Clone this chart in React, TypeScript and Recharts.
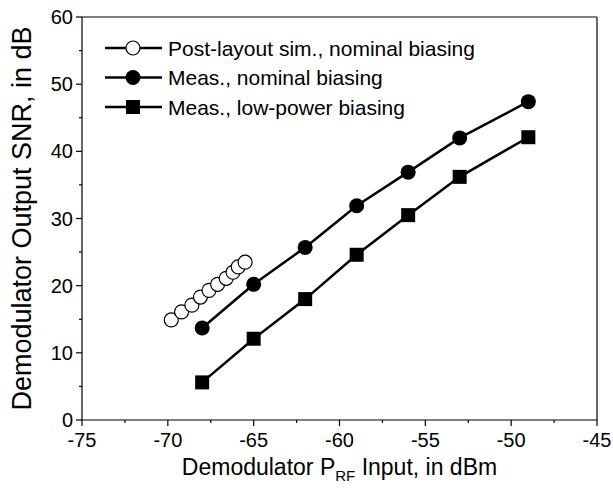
import React from 'react';
import {
  ScatterChart,
  Scatter,
  XAxis,
  YAxis,
  ReferenceLine,
} from 'recharts';

// Post-layout simulation, nominal biasing
const SIM_X = [-69.8, -69.2, -68.6, -68.1, -67.6, -67.1, -66.6, -66.2, -65.9, -65.5];
const SIM_Y = [14.9, 16.1, 17.1, 18.3, 19.3, 20.2, 21.1, 22.0, 22.8, 23.5];

// Measured points share the same input powers
const MEAS_X = [-68, -65, -62, -59, -56, -53, -49];
const MEAS_NOMINAL = [13.7, 20.2, 25.7, 31.9, 36.9, 42.0, 47.4];
const MEAS_LOWPOWER = [5.6, 12.1, 18.0, 24.6, 30.5, 36.2, 42.1];

const X_TICKS = [-75, -72.5, -70, -67.5, -65, -62.5, -60, -57.5, -55, -52.5, -50, -47.5, -45];
const Y_TICKS = [0, 5, 10, 15, 20, 25, 30, 35, 40, 45, 50, 55, 60];

const LEGEND = [
  'Post-layout sim., nominal biasing',
  'Meas., nominal biasing',
  'Meas., low-power biasing',
];

const FONT = 'Arial, "Liberation Sans", Helvetica, sans-serif';

const toPoints = (xs: number[], ys: number[]) => xs.map((x, i) => ({ x, y: ys[i] }));

const simData = toPoints(SIM_X, SIM_Y);
const nominalData = toPoints(MEAS_X, MEAS_NOMINAL);
const lowData = toPoints(MEAS_X, MEAS_LOWPOWER);

const OpenCircle = (p: any) => (
  <circle cx={p.cx} cy={p.cy} r={7} fill="#fff" stroke="#000" strokeWidth={1.2} />
);
const FilledCircle = (p: any) => <circle cx={p.cx} cy={p.cy} r={7.5} fill="#000" />;
const FilledSquare = (p: any) => (
  <rect x={p.cx - 7} y={p.cy - 7} width={14} height={14} fill="#000" />
);

const XTick = ({ x, y, payload }: any) => {
  const major = payload.value % 5 === 0;
  return (
    <g>
      <line x1={x} x2={x} y1={y} y2={y + (major ? 6 : 3)} stroke="#000" strokeWidth={1.2} />
      {major && (
        <text x={x} y={y + 27} textAnchor="middle" fontSize={20} fontFamily={FONT} fill="#000">
          {payload.value}
        </text>
      )}
    </g>
  );
};

const YTick = ({ x, y, payload }: any) => {
  const major = payload.value % 10 === 0;
  return (
    <g>
      <line x1={x} x2={x - (major ? 6 : 3)} y1={y} y2={y} stroke="#000" strokeWidth={1.2} />
      {major && (
        <text x={x - 9} y={y + 7} textAnchor="end" fontSize={20} fontFamily={FONT} fill="#000">
          {payload.value}
        </text>
      )}
    </g>
  );
};

const XLabel = ({ viewBox }: any) => {
  const cx = viewBox.x + viewBox.width / 2;
  return (
    <text x={cx} y={viewBox.y + 55} textAnchor="middle" fontSize={23} fontFamily={FONT} fill="#000">
      <tspan>Demodulator P</tspan>
      <tspan fontSize={15} dy={6}>RF</tspan>
      <tspan dy={-6}> Input, in dBm</tspan>
    </text>
  );
};

const YLabel = ({ viewBox }: any) => {
  const cy = viewBox.y + viewBox.height / 2;
  const x = 31;
  return (
    <text
      x={x}
      y={cy}
      textAnchor="middle"
      fontSize={27}
      fontFamily={FONT}
      fill="#000"
      transform={`rotate(-90, ${x}, ${cy})`}
    >
      Demodulator Output SNR, in dB
    </text>
  );
};

const legendMarkers = [
  <circle cx={28} cy={0} r={7} fill="#fff" stroke="#000" strokeWidth={1.2} />,
  <circle cx={28} cy={0} r={7.5} fill="#000" />,
  <rect x={21} y={-7} width={14} height={14} fill="#000" />,
];

export default function App() {
  return (
    <div style={{ position: 'relative', width: 613, height: 492, background: '#fff' }}>
      <style>{'body{margin:0}'}</style>
      <ScatterChart width={613} height={492} margin={{ top: 17, right: 16, bottom: 0, left: 0 }}>
        <XAxis
          type="number"
          dataKey="x"
          domain={[-75, -45]}
          ticks={X_TICKS}
          interval={0}
          tickSize={0}
          tickMargin={0}
          tickLine={false}
          tick={<XTick />}
          height={72}
          stroke="#000"
          strokeWidth={1.2}
          label={<XLabel />}
        />
        <YAxis
          type="number"
          dataKey="y"
          domain={[0, 60]}
          ticks={Y_TICKS}
          interval={0}
          tickSize={0}
          tickMargin={0}
          tickLine={false}
          tick={<YTick />}
          width={82}
          stroke="#000"
          strokeWidth={1.2}
          label={<YLabel />}
        />
        <ReferenceLine y={60} stroke="#000" strokeWidth={1.2} />
        <ReferenceLine x={-45} stroke="#000" strokeWidth={1.2} />
        <Scatter
          data={lowData}
          line={{ stroke: '#000', strokeWidth: 2.5 }}
          shape={FilledSquare}
          isAnimationActive={false}
        />
        <Scatter
          data={nominalData}
          line={{ stroke: '#000', strokeWidth: 2.5 }}
          shape={FilledCircle}
          isAnimationActive={false}
        />
        <Scatter
          data={simData}
          line={{ stroke: '#000', strokeWidth: 2.5 }}
          shape={OpenCircle}
          isAnimationActive={false}
        />
      </ScatterChart>
      <svg
        width={420}
        height={100}
        style={{ position: 'absolute', left: 105, top: 33 }}
      >
        {LEGEND.map((name, i) => (
          <g key={name} transform={`translate(0, ${15 + i * 29.5})`}>
            <line x1={0} x2={57} y1={0} y2={0} stroke="#000" strokeWidth={2.5} />
            {legendMarkers[i]}
            <text x={63} y={7.5} fontSize={21} fontFamily={FONT} fill="#000">
              {name}
            </text>
          </g>
        ))}
      </svg>
    </div>
  );
}
